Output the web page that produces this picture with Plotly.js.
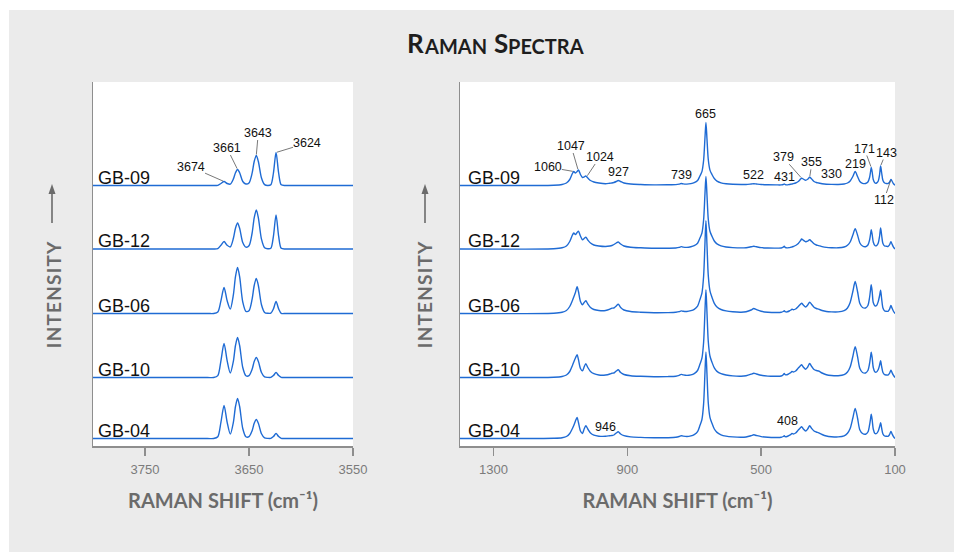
<!DOCTYPE html>
<html>
<head>
<meta charset="utf-8">
<script src="https://cdn.plot.ly/plotly-3.0.1.min.js"></script>
<style>html,body{margin:0;padding:0;background:#fff;}#chart{width:954px;height:552px;}</style>
</head>
<body>
<div id="chart"></div>
<script>
// ---------- DATA ----------
const SAMPLES = ["GB-09", "GB-12", "GB-06", "GB-10", "GB-04"];

// O–H stretching region (cm-1)
const OH_SHIFT = [3800, 3690, 3684, 3680, 3677, 3674, 3671, 3668, 3665, 3663, 3661, 3659, 3656, 3653, 3650,
  3647, 3645, 3643, 3641, 3638, 3635, 3632, 3629, 3626.5, 3624, 3621.5, 3619, 3615, 3605, 3550];
const OH_GB09 = [0,0,0,0.2,2.0,4,2.0,1.3,6.6,12.8,16,12.8,4,1.5,2.6,12.3,24,30,24,7.5,0.9,0,0.7,12.5,33,12.5,0.7,0,0,0];
const OH_GB12 = [0,0,0,0.4,3.7,7.5,3.7,2.1,10.7,20.8,26,20.8,6.5,1.8,3.2,16,31.2,39,31.2,9.8,1.2,0.3,0.7,12.9,34,12.9,0.7,0,0,0];
const OH_GB06 = [0,0,0,1.5,12.7,26,12.7,4.5,18.9,36.8,46,36.8,11.5,2.2,2.8,14.4,28,35,28,8.8,1.1,0.2,0.3,4.6,12,4.6,0.2,0,0,0];
const OH_GB10 = [0,0,0,1.9,16.7,34,16.7,4.5,16.4,32,40,32,10,1.8,1.8,8.2,16,20,16,5,0.6,0.1,0.1,1.9,5,1.9,0.1,0,0,0];
const OH_GB04 = [0,0,0,1.8,16.2,33,16.2,4.4,16.4,32,40,32,10,1.8,1.8,7.8,15.2,19,15.2,4.8,0.6,0.1,0.1,1.9,5,1.9,0.1,0,0,0];

// Low-wavenumber region (cm-1)
const LW_SHIFT = [1400, 1120, 1095, 1082, 1072, 1064, 1060, 1055, 1050, 1046, 1040, 1034, 1029, 1024, 1018, 1010, 1000, 985, 965, 952, 946, 940, 933, 927, 920, 910, 890, 860,
  820, 780, 755, 745, 739, 733, 722, 710, 700, 690, 683, 677, 672, 668, 665, 662, 658, 653, 647, 640, 632, 620, 605, 585, 560,
  545, 530, 522, 514, 500, 480, 455, 440, 434, 431, 428, 423, 416, 411, 408, 404, 397, 389, 382, 379, 374, 367, 361, 355, 349, 342, 335, 328, 318, 305,
  290, 270, 252, 242, 234, 226, 219, 212, 205, 197, 188, 181, 176, 173, 171, 168, 165, 160, 155, 150, 146, 143, 140, 136, 131, 126, 121, 117, 114, 112, 109, 105, 100];
const LW_GB09 = [0,0.3,1,2.5,6,12,14,12.5,14,15.5,11,8,8.5,9.5,7.5,5,3.5,2.5,1.8,2.3,2.5,3,4,5,4,2.5,1.5,1,
  0.6,0.7,0.9,1.4,2.0,1.6,1.4,1.9,2.8,5,9.5,13.9,25,47,63,47,26,15.4,11,7,4.4,2.7,1.8,1.2,1.0,
  1.0,1.5,1.8,1.5,1.0,0.7,0.6,0.6,1.0,1.5,0.8,0.6,1.0,1.3,1.5,1.8,2.5,4,6.5,7.3,6.5,5.2,6.2,8.2,6.5,4,3,2.5,1.8,1.3,
  1.1,1.0,1.5,2.5,4.5,9,14,9,4,2.2,2,3.5,8,14,18,13,6,2.5,2.5,4.5,11,19.5,13,5,2.5,2,2,3,5,6,4.5,2,0.3];
const LW_GB12 = [0,0.3,1.2,3,7.5,14,16,14.5,16.5,17.7,13,9.3,10.5,11.7,9,6,4,3,2.5,3,3.5,4.5,6,7,5,3,1.8,1.2,
  0.7,0.8,1.0,1.6,2.4,1.9,1.6,2.2,3.3,5.8,10.9,16,29,54.5,72.6,54.5,29.8,17.8,12.7,8,5.1,3.1,2,1.4,1.1,
  1.3,2.2,2.7,2.2,1.4,1.0,0.9,1.0,1.8,2.7,1.6,1.1,1.4,1.8,2.0,2.5,3.5,5.5,8.5,10,8.8,7.3,7.8,9.3,7.5,5.2,4,3.4,2.4,1.6,
  1.3,1.2,2,3.8,7,14,20.3,14,6,3,2.3,4,9,15,19.3,14,7,3.5,3.3,6,13,21,14,5.5,3,2.8,2.5,3.8,6,7.3,5,2.2,0];
const LW_GB06 = [0,0.3,1.2,3,7,13,16.5,21,26.7,22,12,8.7,11,12.7,9.5,6,4,3,3,4.3,5.3,5.5,7.5,9.3,6,3.5,2,1.3,
  0.8,0.9,1.2,1.8,2.6,2.2,2.0,2.8,4.2,7.4,13.9,20.4,37,69.5,92.7,69.5,38,22.7,16.2,10.2,6.5,4.0,2.6,1.7,1.3,
  1.8,3.5,5,3.8,2.2,1.3,1.0,1.2,2,2.7,1.8,1.6,2.5,3.5,4.3,3.8,4.5,7,9.5,10.3,8.5,6.5,8.5,11.3,9,6.3,5,4.3,3,2,
  1.6,1.6,2.8,5.5,11,22,32,22,10,6,5.5,8,16,24,28.7,21,11,7.7,8,12,18,23.3,15,5.5,2.5,2.2,2.2,3.8,6.5,8,5.5,2.5,0];
const LW_GB10 = [0,0.3,1,2.5,6,12,15.5,19.5,22.7,18,9,6.7,10.5,13.7,10,6,3.8,2.5,2.5,3.5,4.3,4.5,6.5,7.7,5,3,1.8,1.2,
  0.8,0.9,1.3,2.2,3.1,2.6,2.1,2.6,3.9,7,13.2,19.3,35,65.8,87.7,65.8,36,21.5,15.3,9.6,6.1,3.8,2.5,1.6,1.3,
  1.8,3.3,4.3,3.5,2.2,1.4,1.2,1.5,2.8,4,2.8,2.8,4,5,6,5.5,6.5,9.5,12,12.7,10.5,8.3,10.5,14,11,8,7,6.5,4.5,2.8,
  2,1.8,2.8,5.5,10.5,21,30.7,21,9,5,4.5,7,14,21,25.3,19,10,5.5,5.5,8,12.5,16.7,11,5,2.8,2.5,2.5,3.8,6,7.3,5,2.3,0];
const LW_GB04 = [0,0.3,0.8,2,5,10,13,17.5,21,16,7.5,5,9.5,12.7,9.5,5.5,3.3,2.3,2.2,2.8,3,3.5,5.5,6.7,4.5,2.8,1.6,1.1,
  0.7,0.8,1.2,2.0,2.8,2.4,2.0,2.6,3.9,6.9,13,19,34.6,65,86.6,65,35.5,21.2,15.2,9.5,6.1,3.7,2.4,1.6,1.2,
  1.5,2.8,3.7,3,1.9,1.2,1.0,1.2,2,2.7,1.8,2,3.2,4.2,5,4.5,5.5,8.5,11,11.7,9.5,7.5,9.5,12.7,10,7.5,6.5,5.7,4,2.5,
  1.8,1.6,2.6,5.3,10,20.5,30,20.5,8.5,5,4.3,6.5,13.5,20,24.3,18,9.5,5,5,7.5,12,15.7,10.5,4.5,2.5,2.3,2.2,3.5,5.8,7,4.8,2.2,0];

const OH_TICKS = [3750, 3650, 3550];
const LW_TICKS = [1300, 900, 500, 100];

// peak labels: [label, shift, height on the labelled trace]
const OH_PEAKS = [["3674", 3674, 4], ["3661", 3661, 16], ["3643", 3643, 30], ["3624", 3624, 33]];
const LW_PEAKS_LEADER = [["1060", 1060, 14], ["1047", 1047, 15.5], ["1024", 1021, 9], ["379", 379, 7.3],
  ["355", 355, 8.2], ["171", 171, 18], ["143", 143, 19.5], ["112", 112, 6]];
const LW_PEAKS_PLAIN = [["927", 927, 5], ["739", 739, 2], ["665", 665, 63], ["522", 522, 1.8], ["431", 431, 1.5],
  ["330", 330, 2.5], ["219", 219, 14]];
const LW_PEAKS_GB04 = [["946", 946, 3], ["408", 408, 5]];

// ---------- LAYOUT CONSTANTS ----------
const W = 954, H = 552;
const OFFSETS = [260.5, 197, 132.5, 68.5, 7.5];   // vertical stacking of spectra
const LINE = {color: "#1f6bd4", width: 1.4, shape: "spline", smoothing: 0.8};
const OH_SETS = [OH_GB09, OH_GB12, OH_GB06, OH_GB10, OH_GB04];
const LW_SETS = [LW_GB09, LW_GB12, LW_GB06, LW_GB10, LW_GB04];

const traces = [];
SAMPLES.forEach((s, i) => {
  traces.push({x: OH_SHIFT, y: OH_SETS[i].map(v => v + OFFSETS[i]), xaxis: "x", yaxis: "y",
    mode: "lines", line: LINE, name: s, hoverinfo: "skip"});
  traces.push({x: LW_SHIFT, y: LW_SETS[i].map(v => v + OFFSETS[i]), xaxis: "x2", yaxis: "y2",
    mode: "lines", line: LINE, name: s, hoverinfo: "skip"});
});

const tickFont = {family: "Liberation Sans, Arial, sans-serif", size: 13, color: "#7b7b7b"};
const axisCol = "#8e8e8e";
const axTitleFont = {family: "Lato, 'Open Sans', sans-serif", size: 20, color: "#6b6b6b", weight: "bold"};
const yTitleFont = {family: "Lato, 'Open Sans', sans-serif", size: 19, color: "#6b6b6b", weight: "bold"};
// trailing em-spaces (closed by a zero-width char so they are kept) leave room above the word for the arrow
const Y_TITLE = "I\u200aN\u200aT\u200aE\u200aN\u200aS\u200aI\u200aT\u200aY\u2003\u2003\u2003\u2003\u2005\u200b";
const X_TITLE = "RAMAN SHIFT (cm\u207b\u00b9)";

function xAxis(dom, range, ticks, anchor) {
  return {domain: dom, range: range, tickvals: ticks, ticktext: ticks.map(String), ticks: "outside",
    ticklen: 8, tickwidth: 1.5, tickcolor: axisCol, showline: true, linecolor: axisCol, linewidth: 1.5,
    showgrid: false, zeroline: false, tickfont: tickFont, ticklabelstandoff: 3, anchor: anchor,
    fixedrange: true, automargin: false,
    title: {text: X_TITLE, font: axTitleFont, standoff: 18}};
}
function yAxis(anchor, standoff) {
  return {domain: [1 - 446 / H, 1 - 82 / H], range: [0, 364], showline: true, linecolor: axisCol,
    linewidth: 1.5, showticklabels: false, ticks: "", showgrid: false, zeroline: false,
    anchor: anchor, fixedrange: true, automargin: false,
    title: {text: Y_TITLE, font: yTitleFont, standoff: standoff}};
}

const labFont = {family: "Liberation Sans, Arial, sans-serif", size: 18, color: "#111"};
const pkFont = {family: "Liberation Sans, Arial, sans-serif", size: 12.5, color: "#111"};

const ann = [];
// main title in small caps: [text, x anchor px, side, font size]
const TITLE_PARTS = [["R", 424, "right", 26], ["AMAN", 424, "left", 20], ["S", 508, "right", 26], ["PECTRA", 508, "left", 20]];
TITLE_PARTS.forEach(t => {
  ann.push({xref: "paper", yref: "paper", x: t[1] / W, y: 1 - 59.5 / H, xanchor: t[2], yanchor: "bottom",
    yshift: t[3] === 26 ? 0 : 1.2, showarrow: false, borderpad: 0, borderwidth: 0, text: t[0],
    font: {family: "Lato, 'Open Sans', sans-serif", size: t[3], color: "#1e1e1e", weight: "bold"}});
});

const shapes = [
  {type: "rect", xref: "paper", yref: "paper", x0: 9 / W, x1: 1, y0: 0, y1: 1 - 10 / H,
    fillcolor: "#ebebeb", line: {width: 0}, layer: "below"},
  {type: "rect", xref: "x domain", yref: "y domain", x0: 0, x1: 1, y0: 0, y1: 1,
    fillcolor: "#ffffff", line: {width: 0}, layer: "below"},
  {type: "rect", xref: "x2 domain", yref: "y2 domain", x0: 0, x1: 1, y0: 0, y1: 1,
    fillcolor: "#ffffff", line: {width: 0}, layer: "below"}
];
// intensity arrows: shaft + head
[52, 425].forEach(cx => {
  shapes.push({type: "line", xref: "paper", yref: "paper", x0: cx / W, x1: cx / W,
    y0: 1 - 223 / H, y1: 1 - 192 / H, line: {color: "#6b6b6b", width: 1.6}});
  shapes.push({type: "path", xref: "paper", yref: "paper",
    path: `M ${(cx - 3.5) / W} ${1 - 194 / H} L ${cx / W} ${1 - 184 / H} L ${(cx + 3.5) / W} ${1 - 194 / H} Z`,
    fillcolor: "#6b6b6b", line: {width: 0}});
});
// sample labels
SAMPLES.forEach((s, i) => {
  ann.push({xref: "x", yref: "y", x: 3797, y: OFFSETS[i], xanchor: "left", yanchor: "bottom", yshift: -4,
    showarrow: false, font: labFont, text: s});
  ann.push({xref: "x2", yref: "y2", x: 1382, y: OFFSETS[i], xanchor: "left", yanchor: "bottom", yshift: -4,
    showarrow: false, font: labFont, text: s});
});
// peak labels with leader lines
const pk = {font: pkFont, borderpad: 0, borderwidth: 0};
const ohOff = [[-33, -14.5], [-10.6, -21.5], [2, -22.5], [31, -9.5]];
OH_PEAKS.forEach((p, k) => {
  ann.push(Object.assign({xref: "x", yref: "y", x: p[1], y: OFFSETS[0] + p[2], ax: ohOff[k][0], ay: ohOff[k][1],
    text: p[0], showarrow: true, arrowhead: 0, arrowwidth: 0.8, arrowcolor: "#555", standoff: 1}, pk));
});
const lwOff = [[-26, -4.5], [-7, -24], [13, -19.5], [-18.6, -21], [2.3, -15], [-7, -19], [5.4, -13.5], [-7, 20.5]];
LW_PEAKS_LEADER.forEach((p, k) => {
  ann.push(Object.assign({xref: "x2", yref: "y2", x: p[1], y: OFFSETS[0] + p[2], ax: lwOff[k][0], ay: lwOff[k][1],
    text: p[0], showarrow: true, arrowhead: 0, arrowwidth: 0.8, arrowcolor: "#555", standoff: 1}, pk));
});
const plainShift = {"927": [0, 2], "739": [0, 2], "665": [0, 2], "522": [0, 2], "431": [0, 0], "330": [13, 2], "219": [0, 1]};
LW_PEAKS_PLAIN.forEach(p => {
  ann.push(Object.assign({xref: "x2", yref: "y2", x: p[1], y: OFFSETS[0] + p[2], xanchor: "center", yanchor: "bottom",
    xshift: plainShift[p[0]][0], yshift: plainShift[p[0]][1], showarrow: false, text: p[0]}, pk));
});
const gb04Shift = {"946": [-6, 2], "408": [-4, 6]};
LW_PEAKS_GB04.forEach(p => {
  ann.push(Object.assign({xref: "x2", yref: "y2", x: p[1], y: OFFSETS[4] + p[2], xanchor: "center", yanchor: "bottom",
    xshift: gb04Shift[p[0]][0], yshift: gb04Shift[p[0]][1], showarrow: false, text: p[0]}, pk));
});

const layout = {
  width: W, height: H, margin: {l: 0, r: 0, t: 0, b: 0, pad: 0},
  paper_bgcolor: "#ffffff", plot_bgcolor: "rgba(0,0,0,0)", showlegend: false,
  xaxis: xAxis([93 / W, 353 / W], [3800, 3550], OH_TICKS, "y"),
  yaxis: yAxis("x", 25),
  xaxis2: xAxis([460 / W, 895 / W], [1400, 100], LW_TICKS, "y2"),
  yaxis2: yAxis("x2", 21),
  annotations: ann, shapes: shapes
};

Plotly.newPlot("chart", traces, layout, {displayModeBar: false, staticPlot: true});
</script>
</body>
</html>
